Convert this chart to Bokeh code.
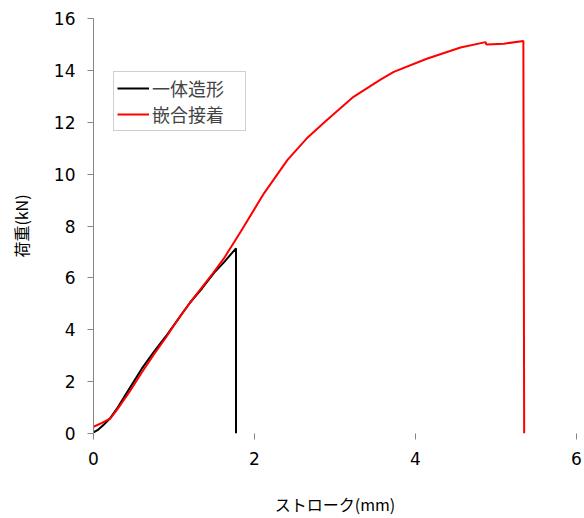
from bokeh.plotting import figure
from bokeh.models import Range1d, FixedTicker, Legend, LegendItem
from bokeh.embed import file_html
from bokeh.resources import INLINE

# 一体造形 (black)
black_x = [0.0, 0.06, 0.13, 0.21, 0.30, 0.45, 0.60, 0.75, 0.90, 1.05, 1.20, 1.35, 1.50, 1.62, 1.77, 1.77]
black_y = [0.04, 0.15, 0.35, 0.60, 1.00, 1.75, 2.50, 3.15, 3.75, 4.40, 5.05, 5.60, 6.20, 6.60, 7.14, 0.0]

# 嵌合接着 (red)
red_x = [0.0, 0.10, 0.21, 0.30, 0.45, 0.60, 0.75, 0.90, 1.08, 1.25, 1.49, 1.62, 1.83, 2.12, 2.41,
         2.65, 2.90, 3.23, 3.57, 3.73, 4.14, 4.56, 4.87, 4.88, 5.10, 5.34, 5.35]
red_y = [0.26, 0.40, 0.58, 0.95, 1.62, 2.35, 3.05, 3.70, 4.54, 5.25, 6.20, 6.75, 7.79, 9.27, 10.55,
         11.38, 12.09, 12.98, 13.65, 13.94, 14.45, 14.88, 15.09, 15.00, 15.03, 15.13, 0.0]

x_ticks = [0, 2, 4, 6]
y_ticks = [0, 2, 4, 6, 8, 10, 12, 14, 16]

label_black = "一体造形"
label_red = "嵌合接着"
x_title = "ストローク(mm)"
y_title = "荷重(kN)"

p = figure(width=584, height=518, output_backend="svg", toolbar_location=None,
           x_range=Range1d(0, 6), y_range=Range1d(0, 16),
           min_border_left=93, min_border_right=8, min_border_top=18, min_border_bottom=83)

p.grid.visible = False
p.outline_line_color = None
p.background_fill_color = "white"
p.border_fill_color = "white"

lb = p.line(black_x, black_y, line_color="black", line_width=2)
lr = p.line(red_x, red_y, line_color="#ff0000", line_width=2)

tick_font = "DejaVu Sans"
cjk = "Noto Sans CJK JP"

p.xaxis.ticker = FixedTicker(ticks=x_ticks)
p.yaxis.ticker = FixedTicker(ticks=y_ticks)
for ax in (p.xaxis, p.yaxis):
    ax.major_label_text_font = tick_font
    ax.major_label_text_font_size = "17px"
    ax.major_label_text_color = "black"
    ax.major_tick_line_color = "#868686"
    ax.major_tick_in = 0
    ax.major_tick_out = 6
    ax.minor_tick_line_color = None
    ax.axis_label_text_font = cjk
    ax.axis_label_text_font_size = "16px"
    ax.axis_label_text_font_style = "normal"
    ax.axis_label_text_color = "black"

p.xaxis.axis_line_color = None
p.yaxis.axis_line_color = "#868686"
p.xaxis.axis_label = x_title
p.yaxis.axis_label = y_title
p.xaxis.major_label_standoff = 12
p.yaxis.major_label_standoff = 12
p.xaxis.axis_label_standoff = 24
p.yaxis.axis_label_standoff = 18

legend = Legend(items=[LegendItem(label=label_black, renderers=[lb]),
                       LegendItem(label=label_red, renderers=[lr])],
                location=(20, 302), orientation="vertical",
                label_text_font=cjk, label_text_font_size="18px",
                label_text_line_height=1.0,
                border_line_color="#a0a0a0", border_line_width=1,
                background_fill_color="white", background_fill_alpha=1,
                padding=3, spacing=-5, label_standoff=3,
                glyph_width=32, glyph_height=20, label_height=20, label_width=90,
                margin=0)
p.add_layout(legend, "center")

open("out.html", "w").write(file_html(p, INLINE))
